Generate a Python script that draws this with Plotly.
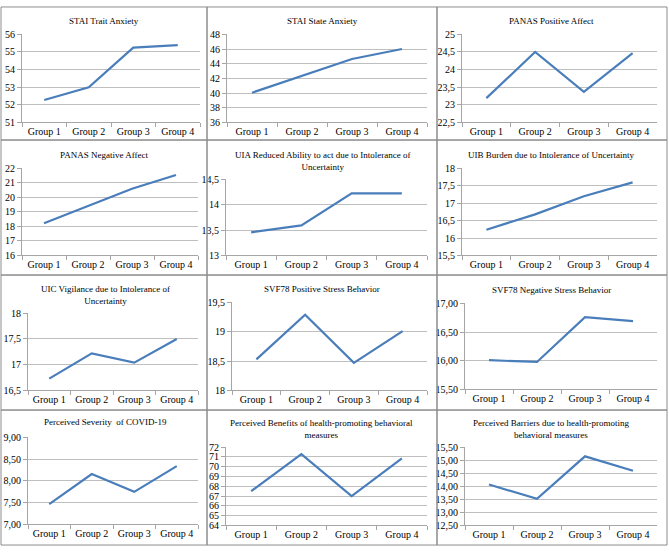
import plotly.graph_objects as go

W, H = 669, 553

groups = ["Group 1", "Group 2", "Group 3", "Group 4"]

titles = [
    "STAI Trait Anxiety",
    "STAI State Anxiety",
    "PANAS Positive Affect",
    "PANAS Negative Affect",
    "UIA Reduced Ability to act due to Intolerance of<br>Uncertainty",
    "UIB Burden due to Intolerance of Uncertainty",
    "UIC Vigilance due to Intolerance of<br>Uncertainty",
    "SVF78 Positive Stress Behavior",
    "SVF78 Negative Stress Behavior",
    "Perceived Severity  of COVID-19",
    "Perceived Benefits of health-promoting behavioral<br>measures",
    "Perceived Barriers due to health-promoting<br>behavioral measures",
]

stai_trait = [52.27, 53.0, 55.25, 55.39]
stai_state = [40.05, 42.4, 44.65, 46.0]
panas_pos = [23.19, 24.5, 23.37, 24.47]
panas_neg = [18.22, 19.4, 20.6, 21.55]
uia = [13.455, 13.59, 14.22, 14.22]
uib = [16.24, 16.68, 17.2, 17.6]
uic = [16.73, 17.22, 17.04, 17.5]
svf_pos = [18.53, 19.29, 18.47, 19.01]
svf_neg = [16.01, 15.98, 16.76, 16.69]
severity = [7.47, 8.16, 7.75, 8.34]
benefits = [67.5, 71.3, 67.0, 70.85]
barriers = [14.07, 13.52, 15.15, 14.6]

series = [stai_trait, stai_state, panas_pos, panas_neg, uia, uib,
          uic, svf_pos, svf_neg, severity, benefits, barriers]

ytick_vals = [
    [51, 52, 53, 54, 55, 56],
    [36, 38, 40, 42, 44, 46, 48],
    [22.5, 23, 23.5, 24, 24.5, 25],
    [16, 17, 18, 19, 20, 21, 22],
    [13, 13.5, 14, 14.5],
    [15.5, 16, 16.5, 17, 17.5, 18],
    [16.5, 17, 17.5, 18],
    [18, 18.5, 19, 19.5],
    [15.5, 16, 16.5, 17],
    [7, 7.5, 8, 8.5, 9],
    [64, 65, 66, 67, 68, 69, 70, 71, 72],
    [12.5, 13, 13.5, 14, 14.5, 15, 15.5],
]
ytick_text = [
    ["51", "52", "53", "54", "55", "56"],
    ["36", "38", "40", "42", "44", "46", "48"],
    ["22,5", "23", "23,5", "24", "24,5", "25"],
    ["16", "17", "18", "19", "20", "21", "22"],
    ["13", "13,5", "14", "14,5"],
    ["15,5", "16", "16,5", "17", "17,5", "18"],
    ["16,5", "17", "17,5", "18"],
    ["18", "18,5", "19", "19,5"],
    ["15,50", "16,00", "16,50", "17,00"],
    ["7,00", "7,50", "8,00", "8,50", "9,00"],
    ["64", "65", "66", "67", "68", "69", "70", "71", "72"],
    ["12,50", "13,00", "13,50", "14,00", "14,50", "15,00", "15,50"],
]

# plot areas in pixels: x0, x1, ytop, ybottom
areas = [
    (22, 200, 29, 119), (227, 427, 29, 119), (462, 657, 29, 119),
    (22, 198, 166, 255), (226, 427, 177, 255), (462, 657, 166, 255),
    (28, 198, 314, 393), (232, 427, 303, 393), (465, 657, 304, 392),
    (28, 198, 441, 530), (226, 427, 451, 531), (465, 657, 451, 531),
]
# title center x and top y in pixels
title_pos = [
    (104, 8), (322, 8), (551, 8),
    (104, 145), (322, 145), (551, 145),
    (105, 282), (322, 282), (551, 283),
    (105, 418), (321, 419), (551, 419),
]

FONT = "'Liberation Serif', 'Times New Roman', Times, serif"
GRID = "#BFBFBF"
AXIS = "#A6A6A6"
LINE = "#4A7EBB"

fig = go.Figure()
layout = {}
annotations = []
for i in range(12):
    n = i + 1
    xa = "x" if n == 1 else f"x{n}"
    ya = "y" if n == 1 else f"y{n}"
    fig.add_trace(go.Scatter(x=groups, y=series[i], mode="lines",
                             line=dict(color=LINE, width=2.2),
                             xaxis=xa, yaxis=ya, showlegend=False,
                             hoverinfo="skip"))
    x0, x1, yt, yb = areas[i]
    vals = ytick_vals[i]
    layout["xaxis" if n == 1 else f"xaxis{n}"] = dict(
        domain=[x0 / W, x1 / W], anchor=ya, type="category",
        range=[-0.5, 3.5], showgrid=False, showline=True, linecolor=AXIS,
        linewidth=1, ticks="outside", tickson="boundaries", ticklen=4,
        tickcolor=AXIS, tickangle=0,
        tickfont=dict(family=FONT, size=10, color="#000"),
        fixedrange=True, zeroline=False)
    layout["yaxis" if n == 1 else f"yaxis{n}"] = dict(
        domain=[1 - yb / H, 1 - yt / H], anchor=xa,
        range=[vals[0], vals[-1]], tickvals=vals, ticktext=ytick_text[i],
        showgrid=True, gridcolor=GRID, gridwidth=1, showline=True,
        linecolor=AXIS, linewidth=1, ticks="outside", ticklen=4,
        tickcolor=AXIS, tickfont=dict(family=FONT, size=10, color="#000"),
        zeroline=False, fixedrange=True)
    tx, ty = title_pos[i]
    annotations.append(dict(text=titles[i], x=tx / W, y=1 - ty / H,
                            xref="paper", yref="paper", xanchor="center",
                            yanchor="top", showarrow=False,
                            font=dict(family=FONT, size=9, color="#000")))

shapes = []
colx = [1, 207, 437, 667]
rowy = [1, 137, 275, 413, 551]
for r in range(4):
    for c in range(3):
        shapes.append(dict(type="rect", xref="paper", yref="paper",
                           x0=colx[c] / W, x1=colx[c + 1] / W,
                           y0=1 - rowy[r + 1] / H, y1=1 - rowy[r] / H,
                           line=dict(color="#8C8C8C", width=1)))

fig.update_layout(width=W, height=H, margin=dict(l=0, r=0, t=0, b=0),
                  paper_bgcolor="white", plot_bgcolor="white",
                  font=dict(family=FONT),
                  annotations=annotations, shapes=shapes, **layout)

fig.write_html("out.html",
               config={"displayModeBar": False, "staticPlot": True},
               post_script="document.body.style.margin='0';"
                           "document.body.style.padding='0';"
                           "document.body.style.overflow='hidden';"
                           "var d=document.getElementById('{plot_id}');"
                           "d.style.position='fixed';d.style.left='0px';"
                           "d.style.top='0px';")
